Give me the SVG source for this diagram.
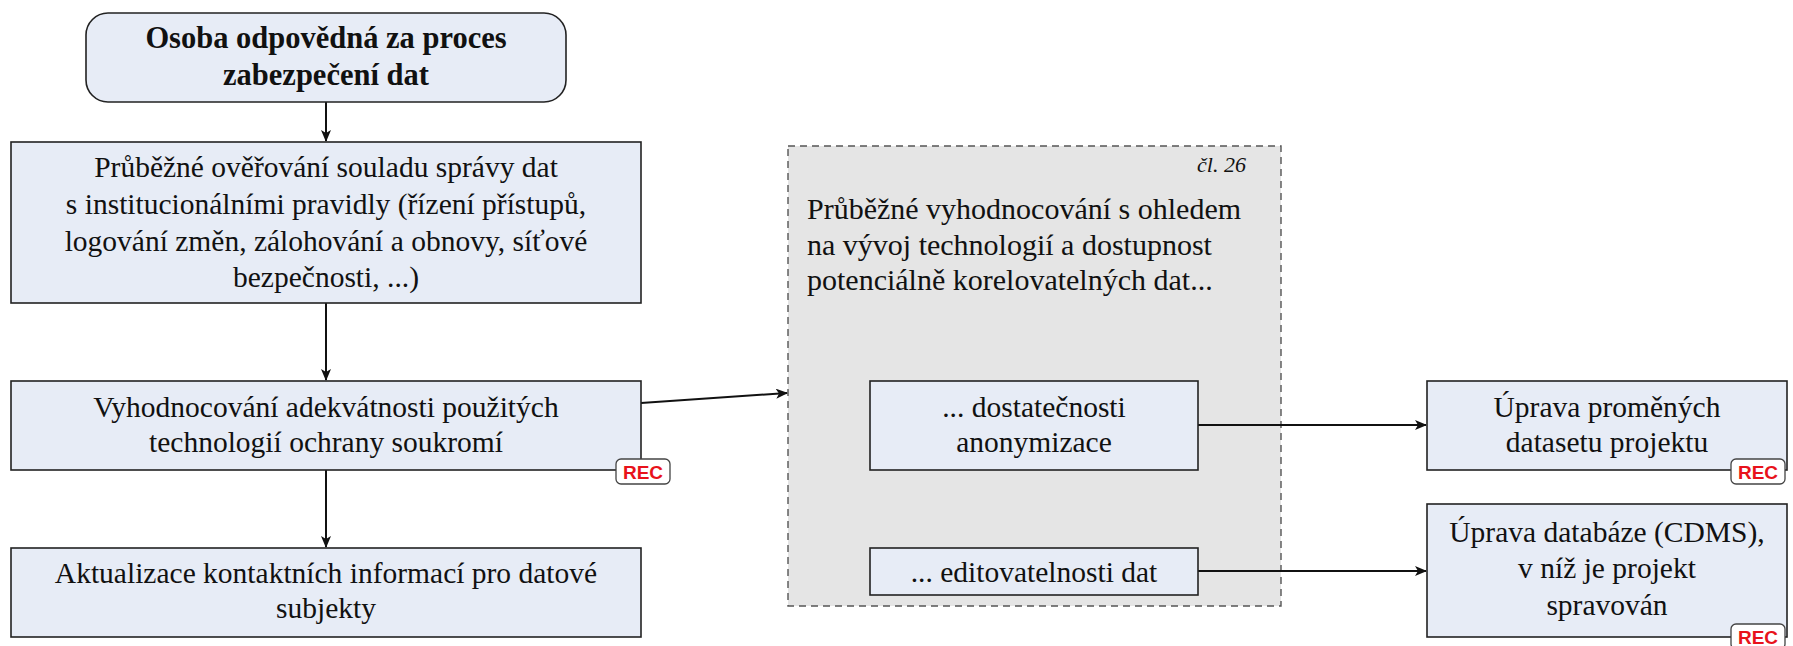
<svg xmlns="http://www.w3.org/2000/svg" width="1793" height="646" viewBox="0 0 1793 646">
<style>
.box{fill:#E7ECF6;stroke:#222;stroke-width:1.6}
.grp{fill:#E5E5E5;stroke:#555;stroke-width:1.4;stroke-dasharray:7,5}
.t{font-family:"Liberation Serif","DejaVu Serif",serif;font-size:29.5px;fill:#111;text-anchor:middle}
.tb{font-weight:bold;font-size:30.5px}
.tl{text-anchor:start;font-size:30px}
.it{font-style:italic;font-size:22px;text-anchor:end}
.rec{fill:#fff;stroke:#444;stroke-width:1.3}
.rt{font-family:"Liberation Sans","DejaVu Sans",sans-serif;font-weight:bold;font-size:19px;fill:#E8121B;text-anchor:middle}
.c{fill:none;stroke:#111;stroke-width:2;marker-end:url(#ah)}
</style>
<defs>
<marker id="ah" viewBox="0 0 12 10" refX="11" refY="5" markerWidth="12" markerHeight="10" markerUnits="userSpaceOnUse" orient="auto">
<path d="M0,0 L12,5 L0,10 L3,5 Z" fill="#111"/>
</marker>
</defs>
<rect width="1793" height="646" fill="#fff"/>
<g id="n-group">
<rect class="grp" x="788" y="146" width="493" height="460"/>
<text class="t it" x="1246" y="172">čl. 26</text>
<text class="t tl" x="807" y="219">Průběžné vyhodnocování s ohledem</text>
<text class="t tl" x="807" y="255">na vývoj technologií a dostupnost</text>
<text class="t tl" x="807" y="290">potenciálně korelovatelných dat...</text>
</g>
<g id="connectors">
<line class="c" x1="326" y1="102" x2="326" y2="141"/>
<line class="c" x1="326" y1="303" x2="326" y2="380"/>
<line class="c" x1="326" y1="470" x2="326" y2="547"/>
<line class="c" x1="641" y1="403" x2="787" y2="393"/>
<line class="c" x1="1198" y1="425" x2="1426" y2="425"/>
<line class="c" x1="1198" y1="571" x2="1426" y2="571"/>
</g>
<g id="n-osoba">
<rect class="box" x="86" y="13" width="480" height="89" rx="22"/>
<text class="t tb" x="326" y="48">Osoba odpovědná za proces</text>
<text class="t tb" x="326" y="85">zabezpečení dat</text>
</g>
<g id="n-overovani">
<rect class="box" x="11" y="142" width="630" height="161"/>
<text class="t" x="326" y="177">Průběžné ověřování souladu správy dat</text>
<text class="t" x="326" y="214">s institucionálními pravidly (řízení přístupů,</text>
<text class="t" x="326" y="251">logování změn, zálohování a obnovy, síťové</text>
<text class="t" x="326" y="287">bezpečnosti, ...)</text>
</g>
<g id="n-vyhodnocovani">
<rect class="box" x="11" y="381" width="630" height="89"/>
<text class="t" x="326" y="417">Vyhodnocování adekvátnosti použitých</text>
<text class="t" x="326" y="452">technologií ochrany soukromí</text>
<rect class="rec" x="616" y="459" width="54" height="25" rx="5"/>
<text class="rt" x="643" y="478.5">REC</text>
</g>
<g id="n-aktualizace">
<rect class="box" x="11" y="548" width="630" height="89"/>
<text class="t" x="326" y="583">Aktualizace kontaktních informací pro datové</text>
<text class="t" x="326" y="618">subjekty</text>
</g>
<g id="n-anonymizace">
<rect class="box" x="870" y="381" width="328" height="89"/>
<text class="t" x="1034" y="417">... dostatečnosti</text>
<text class="t" x="1034" y="452">anonymizace</text>
</g>
<g id="n-editovatelnost">
<rect class="box" x="870" y="548" width="328" height="47"/>
<text class="t" x="1034" y="582">... editovatelnosti dat</text>
</g>
<g id="n-uprava-dataset">
<rect class="box" x="1427" y="381" width="360" height="89"/>
<text class="t" x="1607" y="417">Úprava proměných</text>
<text class="t" x="1607" y="452">datasetu projektu</text>
<rect class="rec" x="1731" y="459" width="54" height="25" rx="5"/>
<text class="rt" x="1758" y="478.5">REC</text>
</g>
<g id="n-uprava-cdms">
<rect class="box" x="1427" y="504" width="360" height="133"/>
<text class="t" x="1607" y="542">Úprava databáze (CDMS),</text>
<text class="t" x="1607" y="578">v níž je projekt</text>
<text class="t" x="1607" y="615">spravován</text>
<rect class="rec" x="1731" y="624" width="54" height="25" rx="5"/>
<text class="rt" x="1758" y="643.5">REC</text>
</g>
</svg>
